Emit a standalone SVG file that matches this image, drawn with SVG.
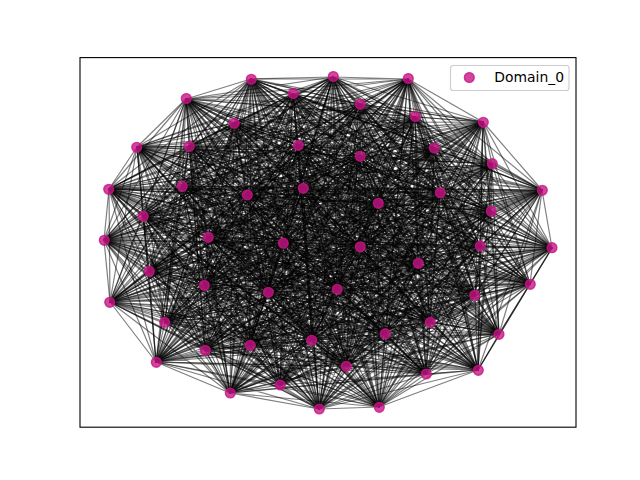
<svg xmlns="http://www.w3.org/2000/svg" width="640" height="480" viewBox="0 0 640 480">
<style>
.e{fill:none;stroke:#000;stroke-opacity:0.5;stroke-width:1.2;stroke-linejoin:round}
.n{fill:#c71585;fill-opacity:0.8;stroke:#c71585;stroke-opacity:0.8;stroke-width:1.39}
.lg{font-family:"DejaVu Sans",sans-serif;font-size:13.9px;fill:#000}
</style>
<rect x="0" y="0" width="640" height="480" fill="#fff"/>
<g id="edges">
<path class="e" d="M379 407L251 79 333 77 319 409 408 79 230 393 186 99 280 385 293 94 426 374 360 104 478 370 415 117 346 366 483 122 156 362 234 123 205 350 137 147 250 345 189 146 312 340 298 145 499 334 360 156 385 334 434 148 430 322 492 164 165 322 109 189 110 302 182 186 475 295 247 195 530 284 303 188 337 289 378 203 268 292 440 193 204 285 542 190 149 271 143 216 418 263 491 211 552 248 104 240 480 246 208 237 360 247 283 243Z"/>
<path class="e" d="M379 407L333 77 408 79 251 79 186 99 319 409 293 94 230 393 360 104 280 385 415 117 426 374 483 122 478 370 234 123 346 366 137 147 156 362 189 146 205 350 298 145 250 345 360 156 312 340 434 148 499 334 492 164 385 334 109 189 430 322 182 186 165 322 247 195 110 302 303 188 475 295 378 203 530 284 440 193 337 289 542 190 268 292 143 216 204 285 491 211 149 271 104 240 418 263 208 237 552 248 283 243 480 246 360 247Z"/>
<path class="e" d="M379 407L408 79 186 99 333 77 293 94 251 79 360 104 319 409 415 117 230 393 483 122 280 385 234 123 426 374 137 147 478 370 189 146 346 366 298 145 156 362 360 156 205 350 434 148 250 345 492 164 312 340 109 189 499 334 182 186 385 334 247 195 430 322 303 188 165 322 378 203 110 302 440 193 475 295 542 190 530 284 143 216 337 289 491 211 268 292 104 240 204 285 208 237 149 271 283 243 418 263 360 247 552 248 480 246Z"/>
<path class="e" d="M379 407L186 99 293 94 408 79 360 104 333 77 415 117 251 79 483 122 319 409 234 123 230 393 137 147 280 385 189 146 426 374 298 145 478 370 360 156 346 366 434 148 156 362 492 164 205 350 109 189 250 345 182 186 312 340 247 195 499 334 303 188 385 334 378 203 430 322 440 193 165 322 542 190 110 302 143 216 475 295 491 211 530 284 104 240 337 289 208 237 268 292 283 243 204 285 360 247 149 271 480 246 418 263 552 248Z"/>
<path class="e" d="M379 407L293 94 360 104 186 99 415 117 408 79 483 122 333 77 234 123 251 79 137 147 319 409 189 146 230 393 298 145 280 385 360 156 426 374 434 148 478 370 492 164 346 366 109 189 156 362 182 186 205 350 247 195 250 345 303 188 312 340 378 203 499 334 440 193 385 334 542 190 430 322 143 216 165 322 491 211 110 302 104 240 475 295 208 237 530 284 283 243 337 289 360 247 268 292 480 246 204 285 552 248 149 271 418 263Z"/>
<path class="e" d="M379 407L360 104 415 117 293 94 483 122 186 99 234 123 408 79 137 147 333 77 189 146 251 79 298 145 319 409 360 156 230 393 434 148 280 385 492 164 426 374 109 189 478 370 182 186 346 366 247 195 156 362 303 188 205 350 378 203 250 345 440 193 312 340 542 190 499 334 143 216 385 334 491 211 430 322 104 240 165 322 208 237 110 302 283 243 475 295 360 247 530 284 480 246 337 289 552 248 268 292 418 263 204 285 149 271Z"/>
<path class="e" d="M379 407L415 117 483 122 360 104 234 123 293 94 137 147 186 99 189 146 408 79 298 145 333 77 360 156 251 79 434 148 319 409 492 164 230 393 109 189 280 385 182 186 426 374 247 195 478 370 303 188 346 366 378 203 156 362 440 193 205 350 542 190 250 345 143 216 312 340 491 211 499 334 104 240 385 334 208 237 430 322 283 243 165 322 360 247 110 302 480 246 475 295 552 248 530 284 418 263 337 289 149 271 268 292 204 285Z"/>
<path class="e" d="M379 407L483 122 234 123 415 117 137 147 360 104 189 146 293 94 298 145 186 99 360 156 408 79 434 148 333 77 492 164 251 79 109 189 319 409 182 186 230 393 247 195 280 385 303 188 426 374 378 203 478 370 440 193 346 366 542 190 156 362 143 216 205 350 491 211 250 345 104 240 312 340 208 237 499 334 283 243 385 334 360 247 430 322 480 246 165 322 552 248 110 302 418 263 475 295 149 271 530 284 204 285 337 289 268 292Z"/>
<path class="e" d="M379 407L234 123 137 147 483 122 189 146 415 117 298 145 360 104 360 156 293 94 434 148 186 99 492 164 408 79 109 189 333 77 182 186 251 79 247 195 319 409 303 188 230 393 378 203 280 385 440 193 426 374 542 190 478 370 143 216 346 366 491 211 156 362 104 240 205 350 208 237 250 345 283 243 312 340 360 247 499 334 480 246 385 334 552 248 430 322 418 263 165 322 149 271 110 302 204 285 475 295 268 292 530 284 337 289Z"/>
<path class="e" d="M379 407L137 147 189 146 234 123 298 145 483 122 360 156 415 117 434 148 360 104 492 164 293 94 109 189 186 99 182 186 408 79 247 195 333 77 303 188 251 79 378 203 319 409 440 193 230 393 542 190 280 385 143 216 426 374 491 211 478 370 104 240 346 366 208 237 156 362 283 243 205 350 360 247 250 345 480 246 312 340 552 248 499 334 418 263 385 334 149 271 430 322 204 285 165 322 268 292 110 302 337 289 475 295 530 284Z"/>
<path class="e" d="M379 407L189 146 298 145 137 147 360 156 234 123 434 148 483 122 492 164 415 117 109 189 360 104 182 186 293 94 247 195 186 99 303 188 408 79 378 203 333 77 440 193 251 79 542 190 319 409 143 216 230 393 491 211 280 385 104 240 426 374 208 237 478 370 283 243 346 366 360 247 156 362 480 246 205 350 552 248 250 345 418 263 312 340 149 271 499 334 204 285 385 334 268 292 430 322 337 289 165 322 530 284 110 302 475 295Z"/>
<path class="e" d="M379 407L298 145 360 156 189 146 434 148 137 147 492 164 234 123 109 189 483 122 182 186 415 117 247 195 360 104 303 188 293 94 378 203 186 99 440 193 408 79 542 190 333 77 143 216 251 79 491 211 319 409 104 240 230 393 208 237 280 385 283 243 426 374 360 247 478 370 480 246 346 366 552 248 156 362 418 263 205 350 149 271 250 345 204 285 312 340 268 292 499 334 337 289 385 334 530 284 430 322 475 295 165 322 110 302Z"/>
<path class="e" d="M379 407L360 156 434 148 298 145 492 164 189 146 109 189 137 147 182 186 234 123 247 195 483 122 303 188 415 117 378 203 360 104 440 193 293 94 542 190 186 99 143 216 408 79 491 211 333 77 104 240 251 79 208 237 319 409 283 243 230 393 360 247 280 385 480 246 426 374 552 248 478 370 418 263 346 366 149 271 156 362 204 285 205 350 268 292 250 345 337 289 312 340 530 284 499 334 475 295 385 334 110 302 430 322 165 322Z"/>
<path class="e" d="M379 407L434 148 492 164 360 156 109 189 298 145 182 186 189 146 247 195 137 147 303 188 234 123 378 203 483 122 440 193 415 117 542 190 360 104 143 216 293 94 491 211 186 99 104 240 408 79 208 237 333 77 283 243 251 79 360 247 319 409 480 246 230 393 552 248 280 385 418 263 426 374 149 271 478 370 204 285 346 366 268 292 156 362 337 289 205 350 530 284 250 345 475 295 312 340 110 302 499 334 165 322 385 334 430 322Z"/>
<path class="e" d="M379 407L492 164 109 189 434 148 182 186 360 156 247 195 298 145 303 188 189 146 378 203 137 147 440 193 234 123 542 190 483 122 143 216 415 117 491 211 360 104 104 240 293 94 208 237 186 99 283 243 408 79 360 247 333 77 480 246 251 79 552 248 319 409 418 263 230 393 149 271 280 385 204 285 426 374 268 292 478 370 337 289 346 366 530 284 156 362 475 295 205 350 110 302 250 345 165 322 312 340 430 322 499 334 385 334Z"/>
<path class="e" d="M379 407L109 189 182 186 492 164 247 195 434 148 303 188 360 156 378 203 298 145 440 193 189 146 542 190 137 147 143 216 234 123 491 211 483 122 104 240 415 117 208 237 360 104 283 243 293 94 360 247 186 99 480 246 408 79 552 248 333 77 418 263 251 79 149 271 319 409 204 285 230 393 268 292 280 385 337 289 426 374 530 284 478 370 475 295 346 366 110 302 156 362 165 322 205 350 430 322 250 345 385 334 312 340 499 334Z"/>
<path class="e" d="M379 407L182 186 247 195 109 189 303 188 492 164 378 203 434 148 440 193 360 156 542 190 298 145 143 216 189 146 491 211 137 147 104 240 234 123 208 237 483 122 283 243 415 117 360 247 360 104 480 246 293 94 552 248 186 99 418 263 408 79 149 271 333 77 204 285 251 79 268 292 319 409 337 289 230 393 530 284 280 385 475 295 426 374 110 302 478 370 165 322 346 366 430 322 156 362 385 334 205 350 499 334 250 345 312 340Z"/>
<path class="e" d="M379 407L247 195 303 188 182 186 378 203 109 189 440 193 492 164 542 190 434 148 143 216 360 156 491 211 298 145 104 240 189 146 208 237 137 147 283 243 234 123 360 247 483 122 480 246 415 117 552 248 360 104 418 263 293 94 149 271 186 99 204 285 408 79 268 292 333 77 337 289 251 79 530 284 319 409 475 295 230 393 110 302 280 385 165 322 426 374 430 322 478 370 385 334 346 366 499 334 156 362 312 340 205 350 250 345Z"/>
<path class="e" d="M379 407L303 188 378 203 247 195 440 193 182 186 542 190 109 189 143 216 492 164 491 211 434 148 104 240 360 156 208 237 298 145 283 243 189 146 360 247 137 147 480 246 234 123 552 248 483 122 418 263 415 117 149 271 360 104 204 285 293 94 268 292 186 99 337 289 408 79 530 284 333 77 475 295 251 79 110 302 319 409 165 322 230 393 430 322 280 385 385 334 426 374 499 334 478 370 312 340 346 366 250 345 156 362 205 350Z"/>
<path class="e" d="M379 407L378 203 440 193 303 188 542 190 247 195 143 216 182 186 491 211 109 189 104 240 492 164 208 237 434 148 283 243 360 156 360 247 298 145 480 246 189 146 552 248 137 147 418 263 234 123 149 271 483 122 204 285 415 117 268 292 360 104 337 289 293 94 530 284 186 99 475 295 408 79 110 302 333 77 165 322 251 79 430 322 319 409 385 334 230 393 499 334 280 385 312 340 426 374 250 345 478 370 205 350 346 366 156 362Z"/>
<path class="e" d="M379 407L440 193 542 190 378 203 143 216 303 188 491 211 247 195 104 240 182 186 208 237 109 189 283 243 492 164 360 247 434 148 480 246 360 156 552 248 298 145 418 263 189 146 149 271 137 147 204 285 234 123 268 292 483 122 337 289 415 117 530 284 360 104 475 295 293 94 110 302 186 99 165 322 408 79 430 322 333 77 385 334 251 79 499 334 319 409 312 340 230 393 250 345 280 385 205 350 426 374 156 362 478 370 346 366Z"/>
<path class="e" d="M379 407L542 190 143 216 440 193 491 211 378 203 104 240 303 188 208 237 247 195 283 243 182 186 360 247 109 189 480 246 492 164 552 248 434 148 418 263 360 156 149 271 298 145 204 285 189 146 268 292 137 147 337 289 234 123 530 284 483 122 475 295 415 117 110 302 360 104 165 322 293 94 430 322 186 99 385 334 408 79 499 334 333 77 312 340 251 79 250 345 319 409 205 350 230 393 156 362 280 385 346 366 426 374 478 370Z"/>
<path class="e" d="M379 407L143 216 491 211 542 190 104 240 440 193 208 237 378 203 283 243 303 188 360 247 247 195 480 246 182 186 552 248 109 189 418 263 492 164 149 271 434 148 204 285 360 156 268 292 298 145 337 289 189 146 530 284 137 147 475 295 234 123 110 302 483 122 165 322 415 117 430 322 360 104 385 334 293 94 499 334 186 99 312 340 408 79 250 345 333 77 205 350 251 79 156 362 319 409 346 366 230 393 478 370 280 385 426 374Z"/>
<path class="e" d="M379 407L491 211 104 240 143 216 208 237 542 190 283 243 440 193 360 247 378 203 480 246 303 188 552 248 247 195 418 263 182 186 149 271 109 189 204 285 492 164 268 292 434 148 337 289 360 156 530 284 298 145 475 295 189 146 110 302 137 147 165 322 234 123 430 322 483 122 385 334 415 117 499 334 360 104 312 340 293 94 250 345 186 99 205 350 408 79 156 362 333 77 346 366 251 79 478 370 319 409 426 374 230 393 280 385Z"/>
<path class="e" d="M379 407L104 240 208 237 491 211 283 243 143 216 360 247 542 190 480 246 440 193 552 248 378 203 418 263 303 188 149 271 247 195 204 285 182 186 268 292 109 189 337 289 492 164 530 284 434 148 475 295 360 156 110 302 298 145 165 322 189 146 430 322 137 147 385 334 234 123 499 334 483 122 312 340 415 117 250 345 360 104 205 350 293 94 156 362 186 99 346 366 408 79 478 370 333 77 426 374 251 79 280 385 319 409 230 393Z"/>
<path class="e" d="M379 407L208 237 283 243 104 240 360 247 491 211 480 246 143 216 552 248 542 190 418 263 440 193 149 271 378 203 204 285 303 188 268 292 247 195 337 289 182 186 530 284 109 189 475 295 492 164 110 302 434 148 165 322 360 156 430 322 298 145 385 334 189 146 499 334 137 147 312 340 234 123 250 345 483 122 205 350 415 117 156 362 360 104 346 366 293 94 478 370 186 99 426 374 408 79 280 385 333 77 230 393 251 79 319 409Z"/>
</g>
<g id="nodes">
<g id="n0"><circle class="n" cx="251.3" cy="79.3" r="4.9"/></g>
<g id="n1"><circle class="n" cx="333.3" cy="76.5" r="4.9"/></g>
<g id="n2"><circle class="n" cx="408.3" cy="78.5" r="4.9"/></g>
<g id="n3"><circle class="n" cx="186.3" cy="98.5" r="4.9"/></g>
<g id="n4"><circle class="n" cx="293.3" cy="93.5" r="4.9"/></g>
<g id="n5"><circle class="n" cx="360.3" cy="104.3" r="4.9"/></g>
<g id="n6"><circle class="n" cx="415.3" cy="116.5" r="4.9"/></g>
<g id="n7"><circle class="n" cx="483.3" cy="122.3" r="4.9"/></g>
<g id="n8"><circle class="n" cx="234.3" cy="123.3" r="4.9"/></g>
<g id="n9"><circle class="n" cx="136.7" cy="147.3" r="4.9"/></g>
<g id="n10"><circle class="n" cx="189.3" cy="146.3" r="4.9"/></g>
<g id="n11"><circle class="n" cx="298.3" cy="145.3" r="4.9"/></g>
<g id="n12"><circle class="n" cx="360.3" cy="156.3" r="4.9"/></g>
<g id="n13"><circle class="n" cx="434.3" cy="148" r="4.9"/></g>
<g id="n14"><circle class="n" cx="492.3" cy="163.7" r="4.9"/></g>
<g id="n15"><circle class="n" cx="108.7" cy="189.3" r="4.9"/></g>
<g id="n16"><circle class="n" cx="182.3" cy="186.3" r="4.9"/></g>
<g id="n17"><circle class="n" cx="247.3" cy="195" r="4.9"/></g>
<g id="n18"><circle class="n" cx="303.3" cy="188.3" r="4.9"/></g>
<g id="n19"><circle class="n" cx="378.3" cy="203.3" r="4.9"/></g>
<g id="n20"><circle class="n" cx="440.3" cy="192.7" r="4.9"/></g>
<g id="n21"><circle class="n" cx="542.3" cy="190.3" r="4.9"/></g>
<g id="n22"><circle class="n" cx="143.3" cy="216.3" r="4.9"/></g>
<g id="n23"><circle class="n" cx="491.3" cy="211.3" r="4.9"/></g>
<g id="n24"><circle class="n" cx="104.3" cy="240.3" r="4.9"/></g>
<g id="n25"><circle class="n" cx="208.3" cy="237.3" r="4.9"/></g>
<g id="n26"><circle class="n" cx="283.3" cy="243.2" r="4.9"/></g>
<g id="n27"><circle class="n" cx="360.3" cy="246.8" r="4.9"/></g>
<g id="n28"><circle class="n" cx="480.3" cy="246" r="4.9"/></g>
<g id="n29"><circle class="n" cx="552" cy="247.7" r="4.9"/></g>
<g id="n30"><circle class="n" cx="418.3" cy="263.3" r="4.9"/></g>
<g id="n31"><circle class="n" cx="149.3" cy="271.3" r="4.9"/></g>
<g id="n32"><circle class="n" cx="204.3" cy="285.3" r="4.9"/></g>
<g id="n33"><circle class="n" cx="268.3" cy="292.3" r="4.9"/></g>
<g id="n34"><circle class="n" cx="337.3" cy="289.3" r="4.9"/></g>
<g id="n35"><circle class="n" cx="530.3" cy="284.3" r="4.9"/></g>
<g id="n36"><circle class="n" cx="474.7" cy="295.3" r="4.9"/></g>
<g id="n37"><circle class="n" cx="109.7" cy="302.3" r="4.9"/></g>
<g id="n38"><circle class="n" cx="164.7" cy="322.3" r="4.9"/></g>
<g id="n39"><circle class="n" cx="430.3" cy="322.3" r="4.9"/></g>
<g id="n40"><circle class="n" cx="385.3" cy="333.7" r="4.9"/></g>
<g id="n41"><circle class="n" cx="499" cy="334.3" r="4.9"/></g>
<g id="n42"><circle class="n" cx="311.7" cy="340.3" r="4.9"/></g>
<g id="n43"><circle class="n" cx="250.3" cy="345.3" r="4.9"/></g>
<g id="n44"><circle class="n" cx="205.3" cy="350.3" r="4.9"/></g>
<g id="n45"><circle class="n" cx="156.3" cy="362.3" r="4.9"/></g>
<g id="n46"><circle class="n" cx="346.3" cy="366.3" r="4.9"/></g>
<g id="n47"><circle class="n" cx="478.3" cy="370.3" r="4.9"/></g>
<g id="n48"><circle class="n" cx="426.3" cy="374" r="4.9"/></g>
<g id="n49"><circle class="n" cx="280.3" cy="385" r="4.9"/></g>
<g id="n50"><circle class="n" cx="230.3" cy="393" r="4.9"/></g>
<g id="n51"><circle class="n" cx="319.3" cy="409" r="4.9"/></g>
<g id="n52"><circle class="n" cx="379.3" cy="407.3" r="4.9"/></g>
</g>
<rect x="80" y="57.6" width="496" height="369.6" fill="none" stroke="#000" stroke-width="1.1"/>
<g id="legend">
<rect x="450.5" y="65.5" width="118.5" height="25" rx="2.8" fill="#fff" fill-opacity="0.8" stroke="#ccc" stroke-width="1.1"/>
<circle class="n" cx="469.3" cy="77.5" r="4.9"/>
<text class="lg" x="494.3" y="82.3">Domain_0</text>
</g>
</svg>
